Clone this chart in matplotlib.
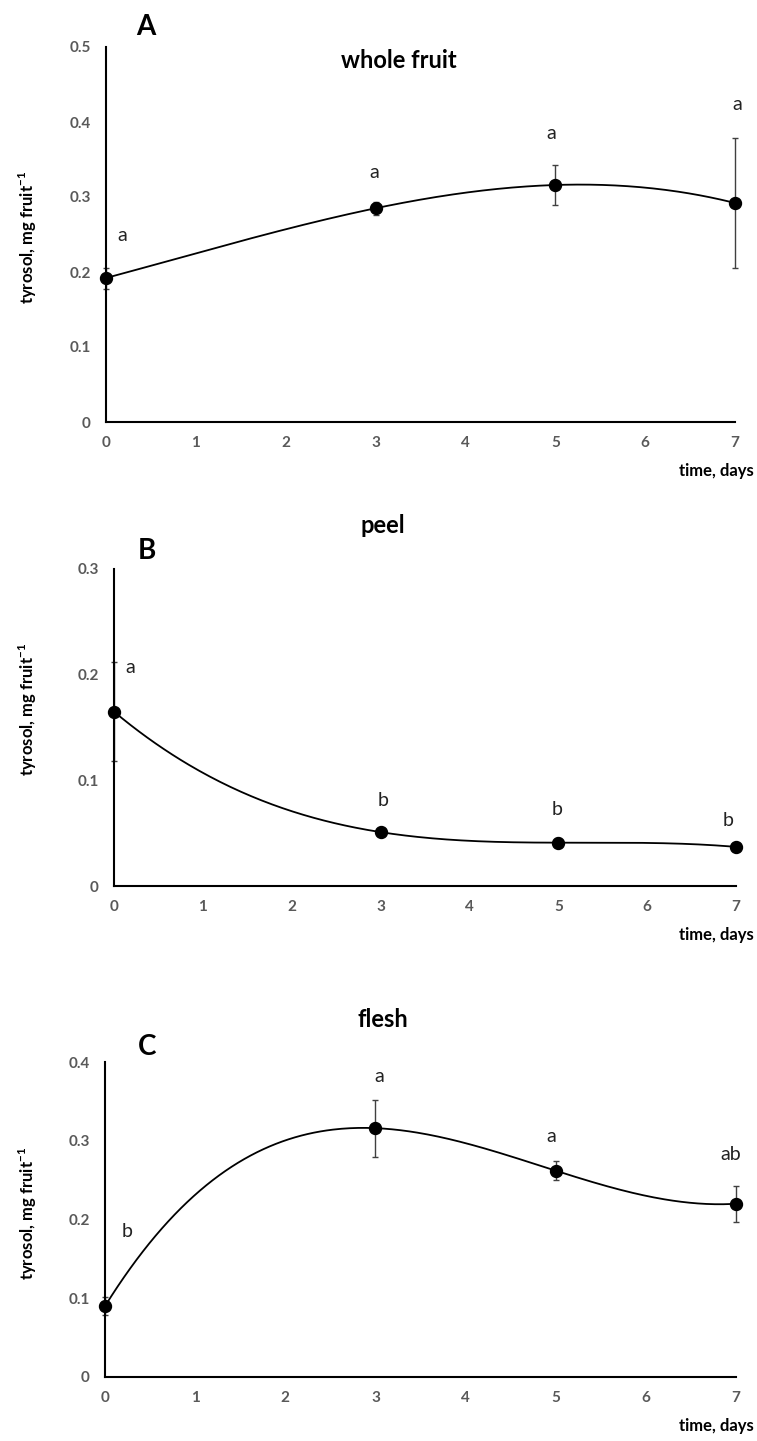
import numpy as np
import matplotlib

matplotlib.use("Agg")
from matplotlib import pyplot as plt

plt.rcParams["font.family"] = ["Lato", "DejaVu Sans"]
plt.rcParams["mathtext.fontset"] = "custom"
plt.rcParams["mathtext.rm"] = "Lato"
plt.rcParams["mathtext.bf"] = "Lato:bold"

# data (mean +/- error, days after harvest)
days = [0, 3, 5, 7]

whole_fruit = [0.192, 0.285, 0.316, 0.292]
whole_fruit_err = [0.014, 0.009, 0.027, 0.087]
whole_fruit_letters = ["a", "a", "a", "a"]

peel = [0.165, 0.051, 0.041, 0.037]
peel_err = [0.047, 0.003, 0.004, 0.004]
peel_letters = ["a", "b", "b", "b"]

flesh = [0.090, 0.316, 0.262, 0.220]
flesh_err = [0.011, 0.036, 0.012, 0.023]
flesh_letters = ["b", "a", "a", "ab"]

x_ticks = [0, 1, 2, 3, 4, 5, 6, 7]

W, H = 757, 1441
TICK_GREY = "#595959"

# layout in pixels: axes box (left, top, right, bottom), panel letter, title, ylabel centre, letter positions (data coords)
panels = [
    dict(
        values=whole_fruit, err=whole_fruit_err, letters=whole_fruit_letters,
        ymax=0.5, box=(106, 47, 735, 422), tag="A", tag_xy=(146, 35),
        title="whole fruit", title_xy=(399, 68), ylab_y=237,
        letter_xy=[(0.18, 0.249), (2.98, 0.333), (4.96, 0.385), (7.02, 0.423)],
    ),
    dict(
        values=peel, err=peel_err, letters=peel_letters,
        ymax=0.3, box=(114, 569, 736, 886), tag="B", tag_xy=(147, 559),
        title="peel", title_xy=(383, 533), ylab_y=709,
        letter_xy=[(0.18, 0.207), (3.03, 0.081), (4.99, 0.072), (6.91, 0.062)],
    ),
    dict(
        values=flesh, err=flesh_err, letters=flesh_letters,
        ymax=0.4, box=(105, 1062, 736, 1377), tag="C", tag_xy=(147, 1055),
        title="flesh", title_xy=(383, 1027), ylab_y=1213,
        letter_xy=[(0.24, 0.185), (3.04, 0.382), (4.95, 0.305), (6.94, 0.283)],
    ),
]


def fmt_tick(v):
    return "0" if abs(v) < 1e-9 else f"{v:.1f}"


fig = plt.figure(figsize=(W / 100, H / 100), dpi=100)

for p in panels:
    left, top, right, bottom = p["box"]
    ax = fig.add_axes([left / W, 1 - bottom / H, (right - left) / W, (bottom - top) / H])
    ax.set_xlim(0, 7)
    ax.set_ylim(0, p["ymax"])

    # cubic trendline through the four means
    coef = np.polyfit(days, p["values"], 3)
    xs = np.linspace(0, 7, 300)
    ax.plot(xs, np.polyval(coef, xs), color="black", lw=1.3, zorder=3)

    eb = ax.errorbar(days, p["values"], yerr=p["err"], fmt="none", ecolor="#404040",
                     elinewidth=1.0, capsize=2.5, capthick=1.0, zorder=2)
    for artist in eb.lines[1] + eb.lines[2]:
        artist.set_clip_on(False)
    ax.plot(days, p["values"], "o", color="black", ms=8.6, zorder=4, clip_on=False)

    for lab, (lx, ly) in zip(p["letters"], p["letter_xy"]):
        ax.text(lx, ly, lab, ha="center", va="center", fontsize=14, color="#222222")

    yt = np.round(np.arange(0, p["ymax"] + 1e-9, 0.1), 1)
    ax.set_yticks(yt)
    ax.set_yticklabels([fmt_tick(v) for v in yt])
    ax.set_xticks(x_ticks)
    ax.set_xticklabels([str(t) for t in x_ticks])
    ax.tick_params(axis="both", length=0, labelsize=11, labelcolor=TICK_GREY)
    ax.tick_params(axis="y", pad=11)
    ax.tick_params(axis="x", pad=10)
    for lbl in ax.get_xticklabels() + ax.get_yticklabels():
        lbl.set_fontweight("bold")

    for side in ("top", "right"):
        ax.spines[side].set_visible(False)
    for side in ("left", "bottom"):
        ax.spines[side].set_linewidth(1.5)
        ax.spines[side].set_color("black")

    # texts placed in figure pixels
    tx, ty = p["tag_xy"]
    fig.text(tx / W, 1 - ty / H, p["tag"], ha="center", va="baseline", fontsize=20, fontweight="bold")
    tx, ty = p["title_xy"]
    fig.text(tx / W, 1 - ty / H, p["title"], ha="center", va="baseline", fontsize=17, fontweight="bold")
    fig.text(28 / W, 1 - p["ylab_y"] / H, r"tyrosol, mg fruit$^{\mathbf{-1}}$", rotation=90,
             ha="center", va="center", fontsize=12, fontweight="bold")
    fig.text(754 / W, 1 - (bottom + 49) / H, "time, days", ha="right", va="center",
             fontsize=12, fontweight="bold")

fig.savefig("out.png", dpi=100)
